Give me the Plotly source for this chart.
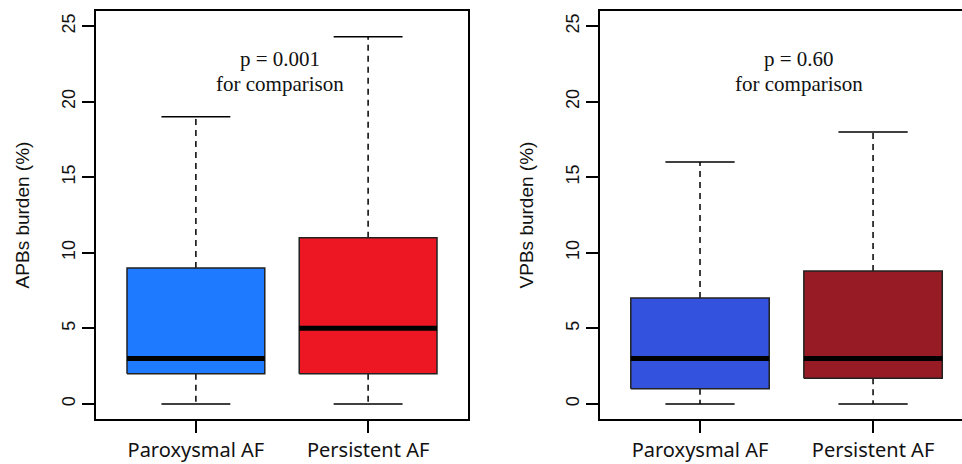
import plotly.graph_objects as go

groups = ["Paroxysmal AF", "Persistent AF"]
positions = [1, 2]

# APB burden (%) five-number summaries
apb_min = [0, 0]
apb_q1 = [2, 2]
apb_med = [3, 5]
apb_q3 = [9, 11]
apb_max = [19, 24.3]

# VPB burden (%) five-number summaries
vpb_min = [0, 0]
vpb_q1 = [1, 1.7]
vpb_med = [3, 3]
vpb_q3 = [7, 8.8]
vpb_max = [16, 18]

apb_colors = ["#1E7BFF", "#ED1724"]
vpb_colors = ["#3352DD", "#961B24"]

y_ticks = [0, 5, 10, 15, 20, 25]

W, H = 962, 464
BOX_HALF = 0.4
CAP_HALF = 0.2

fig = go.Figure()


def add_panel(xa, ya, mins, q1s, meds, q3s, maxs, colors):
    for pos, mn, q1, md, q3, mx, col in zip(positions, mins, q1s, meds, q3s, maxs, colors):
        # dashed whiskers
        for y0, y1 in ((q3, mx), (q1, mn)):
            fig.add_trace(go.Scatter(x=[pos, pos], y=[y0, y1], mode="lines",
                                     line=dict(color="black", width=1.5, dash="6px,5px"),
                                     xaxis=xa, yaxis=ya, hoverinfo="skip", showlegend=False))
        # caps
        for yv in (mn, mx):
            fig.add_trace(go.Scatter(x=[pos - CAP_HALF, pos + CAP_HALF], y=[yv, yv], mode="lines",
                                     line=dict(color="black", width=1.5),
                                     xaxis=xa, yaxis=ya, hoverinfo="skip", showlegend=False))
        # box
        fig.add_trace(go.Scatter(x=[pos - BOX_HALF, pos + BOX_HALF, pos + BOX_HALF, pos - BOX_HALF, pos - BOX_HALF],
                                 y=[q1, q1, q3, q3, q1], mode="lines", fill="toself",
                                 fillcolor=col, line=dict(color="#222222", width=1.5),
                                 xaxis=xa, yaxis=ya, hoverinfo="skip", showlegend=False))
        # median
        fig.add_trace(go.Scatter(x=[pos - BOX_HALF, pos + BOX_HALF], y=[md, md], mode="lines",
                                 line=dict(color="black", width=5),
                                 xaxis=xa, yaxis=ya, hoverinfo="skip", showlegend=False))


add_panel("x", "y", apb_min, apb_q1, apb_med, apb_q3, apb_max, apb_colors)
add_panel("x2", "y2", vpb_min, vpb_q1, vpb_med, vpb_q3, vpb_max, vpb_colors)

ydom = [(H - 419) / H, (H - 11) / H]

axis_common = dict(showline=True, linecolor="black", linewidth=1.5, ticks="outside",
                   ticklen=12, tickwidth=1.5, tickcolor="black", showgrid=False, zeroline=False,
                   automargin=False)

xfont = dict(family="Noto Sans", size=20, color="#111111")
yfont = dict(family="Liberation Sans", size=18, color="#111111")
tfont = dict(family="Liberation Sans", size=19, color="#111111")

fig.update_layout(
    width=W, height=H,
    margin=dict(l=0, r=0, t=0, b=0),
    plot_bgcolor="white", paper_bgcolor="white",
    showlegend=False,
    xaxis=dict(domain=[96 / W, 468 / W], range=[0.42, 2.58], tickvals=positions, ticktext=groups,
               mirror=True, tickfont=xfont, ticklabelstandoff=0,
               anchor="y", **axis_common),
    yaxis=dict(domain=ydom, range=[-1, 26], tickvals=y_ticks, tickangle=-90, mirror=True,
               tickfont=yfont,
               title=dict(text="APBs burden (%)", font=tfont, standoff=24),
               anchor="x", **axis_common),
    xaxis2=dict(domain=[600 / W, 1.0], range=[0.422, 2.514], tickvals=positions, ticktext=groups,
                mirror=True, tickfont=xfont, ticklabelstandoff=0,
                anchor="y2", **axis_common),
    yaxis2=dict(domain=ydom, range=[-1, 26], tickvals=y_ticks, tickangle=-90, mirror=False,
                tickfont=yfont,
                title=dict(text="VPBs burden (%)", font=tfont, standoff=24),
                anchor="x2", **axis_common),
)

annot_font = dict(family="Liberation Serif", size=21, color="#111111")
fig.add_annotation(x=1.49, y=22.8, xref="x", yref="y", text="p = 0.001", showarrow=False, font=annot_font)
fig.add_annotation(x=1.49, y=21.2, xref="x", yref="y", text="for comparison", showarrow=False, font=annot_font)
fig.add_annotation(x=1.57, y=22.8, xref="x2", yref="y2", text="p = 0.60", showarrow=False, font=annot_font)
fig.add_annotation(x=1.57, y=21.2, xref="x2", yref="y2", text="for comparison", showarrow=False, font=annot_font)

fig.write_html("out.html")
